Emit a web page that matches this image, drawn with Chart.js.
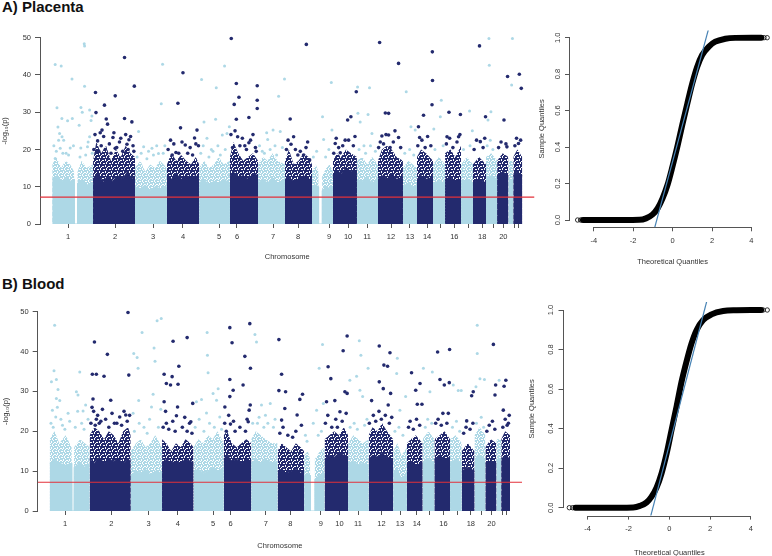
<!DOCTYPE html>
<html>
<head>
<meta charset="utf-8">
<script src="https://cdn.jsdelivr.net/npm/chart.js@4.4.1/dist/chart.umd.min.js"></script>
<style>
  html, body { margin: 0; padding: 0; width: 772px; height: 556px; overflow: hidden; background: #fff; }
  .panel-title { position: absolute; left: 2px; font: bold 15px 'Liberation Sans', Arial, sans-serif; line-height: 15px; color: #111; }
  canvas { position: absolute; }
</style>
</head>
<body>
<div class="panel-title" style="top:-1px">A) Placenta</div>
<div class="panel-title" style="top:276px">B) Blood</div>
<canvas id="placentaManhattan" width="545" height="261" style="left:0;top:0"></canvas>
<canvas id="placentaQQ" width="250" height="266" style="left:530px;top:0"></canvas>
<canvas id="bloodManhattan" width="535" height="280" style="left:0;top:270px"></canvas>
<canvas id="bloodQQ" width="255" height="287" style="left:525px;top:270px"></canvas>
<script>
// chromosome layout (cumulative position, Mb-like units)
const chromStart = [0, 250, 507, 703, 900, 1089, 1261, 1426, 1592, 1720, 1867, 1996, 2149, 2235, 2333, 2407, 2505, 2578, 2658, 2726, 2795, 2825];
const tickPos = [97, 385, 618, 801, 1022, 1132, 1353, 1506, 1696, 1813, 1929, 2076, 2192, 2297, 2376, 2464, 2550, 2635, 2703, 2764, 2830, 2856];
const tickLabels = ['1', '2', '3', '4', '5', '6', '7', '8', '9', '10', '11', '12', '13', '14', '', '16', '', '18', '', '20', '', ''];
const yTicks = [0, 10, 20, 30, 40, 50];
const threshold = 7.2;

// dense part of each chromosome: solid top and speckled top, [position, -log10 p]
const placentaCore = [
  [[0,12],[30,13],[60,11.5],[95,12.5],[120,11],[134,12],[135,0],[154,0],[155,11],[185,12],[215,10.5],[250,11]],
  [[250,12],[280,14],[310,11],[340,13],[370,11.5],[400,13],[430,12],[460,14],[490,12],[507,13]],
  [[507,10],[540,9.5],[570,10.5],[600,9],[630,10],[660,9.5],[703,10]],
  [[703,13],[730,12],[760,13.5],[790,12],[820,13],[850,12.5],[880,13],[900,12]],
  [[900,11],[930,12],[960,10.5],[990,11.5],[1020,11],[1050,12],[1089,11]],
  [[1089,13],[1110,14],[1140,12.5],[1170,13],[1200,12],[1230,13.5],[1261,13]],
  [[1261,11],[1290,12],[1320,11],[1350,12.5],[1380,11],[1426,12]],
  [[1426,12],[1450,12.5],[1480,11.5],[1510,12],[1540,13],[1570,12],[1592,12]],
  [[1592,10],[1615,10.5],[1631,10],[1632,0],[1653,0],[1654,9],[1680,10],[1700,9.5],[1720,10]],
  [[1720,13],[1745,14.5],[1770,13.5],[1800,15],[1830,14],[1867,14.5]],
  [[1867,12],[1900,11.5],[1930,12.5],[1960,11],[1996,12]],
  [[1996,12],[2020,13],[2050,12],[2080,13.5],[2110,12],[2149,12.5]],
  [[2149,10],[2180,11],[2210,10],[2235,10.5]],
  [[2235,12],[2260,13],[2290,12],[2333,12.5]],
  [[2333,11],[2370,11.5],[2407,11]],
  [[2407,12],[2440,12.5],[2470,11.5],[2505,12]],
  [[2505,11],[2540,12],[2578,11]],
  [[2578,11],[2615,12],[2658,11]],
  [[2658,12],[2690,13],[2726,12]],
  [[2726,13],[2760,14],[2795,13]],
  [[2795,12],[2825,12]],
  [[2825,13],[2850,14],[2880,13]]
];
const placentaFringe = [
  [[0,16],[25,18],[55,15],[80,17],[110,16],[134,14],[135,0],[154,0],[155,14],[180,17],[210,15],[250,16]],
  [[250,17],[270,22],[300,19],[330,21],[360,17],[390,20],[420,18],[450,21],[480,19],[507,18]],
  [[507,15],[540,17],[570,14],[600,16],[630,15],[660,17],[703,15]],
  [[703,16],[730,19],[760,17],[790,18.5],[820,17],[850,16],[880,18],[900,16]],
  [[900,15],[930,17],[960,15],[990,16],[1020,18],[1050,16],[1089,17]],
  [[1089,18],[1110,22],[1140,19],[1170,17],[1200,18],[1230,19],[1261,17]],
  [[1261,16],[1290,18],[1320,17],[1350,19],[1380,17],[1426,16]],
  [[1426,17],[1450,20],[1480,16],[1510,17],[1540,19],[1570,18],[1592,16]],
  [[1592,14],[1615,16],[1631,14],[1632,0],[1653,0],[1654,13],[1680,15],[1700,16],[1720,14]],
  [[1720,17],[1745,19],[1770,18],[1800,20],[1830,19],[1867,18]],
  [[1867,17],[1900,18],[1930,16],[1960,18],[1996,16]],
  [[1996,17],[2020,20],[2050,21],[2080,20],[2110,18],[2149,17]],
  [[2149,15],[2180,17],[2210,16],[2235,15]],
  [[2235,18],[2260,20],[2290,19],[2333,17]],
  [[2333,16],[2370,18],[2407,16]],
  [[2407,19],[2440,20],[2470,18],[2505,21]],
  [[2505,16],[2540,18],[2578,16]],
  [[2578,16],[2615,18],[2658,16]],
  [[2658,18],[2690,19],[2726,17]],
  [[2726,17],[2760,19],[2795,18]],
  [[2795,17],[2825,17]],
  [[2825,18],[2850,20],[2880,18]]
];
const bloodCore = [
  [[0,12],[30,13],[60,12],[100,11.5],[137,12],[138,0],[152,0],[153,11],[190,12],[220,11],[250,12]],
  [[250,13],[280,12],[310,13.5],[340,12],[370,13],[400,12.5],[430,13],[460,12],[490,13],[507,12.5]],
  [[507,9],[540,10],[570,9.5],[600,10.5],[630,9],[660,10],[703,9.5]],
  [[703,12],[730,13],[760,12],[790,12.5],[820,12],[850,13],[880,12.5],[900,12]],
  [[900,10],[930,10.5],[960,9.5],[990,10],[1020,11],[1050,10],[1089,11]],
  [[1089,13],[1110,14],[1140,12.5],[1170,13],[1200,12],[1230,13],[1261,12.5]],
  [[1261,12],[1290,13],[1320,12],[1350,13],[1390,12],[1426,12.5]],
  [[1426,10],[1450,10.5],[1480,9.5],[1510,10],[1540,10.5],[1570,9.5],[1592,10]],
  [[1592,9],[1615,9.5],[1629,9],[1630,0],[1658,0],[1659,8],[1690,9],[1720,9.5]],
  [[1720,13],[1750,14],[1780,13.5],[1810,14.5],[1840,14],[1867,13.5]],
  [[1867,12],[1900,12.5],[1930,11.5],[1960,12],[1996,11.5]],
  [[1996,13],[2020,14],[2050,13.5],[2080,14.5],[2110,13.5],[2149,13]],
  [[2149,10],[2175,10.5],[2200,8],[2220,9],[2235,10]],
  [[2235,12],[2260,12.5],[2290,11.5],[2333,12]],
  [[2333,12],[2370,13],[2407,12]],
  [[2407,13],[2440,14],[2470,13],[2505,13.5]],
  [[2505,12],[2540,13],[2578,12]],
  [[2578,10],[2615,11],[2658,10]],
  [[2658,13],[2690,14],[2726,13]],
  [[2726,12],[2760,12.5],[2795,12]],
  [[2795,13],[2825,13]],
  [[2825,13],[2850,14],[2880,13]]
];
const bloodFringe = [
  [[0,18],[30,20],[60,17],[100,19],[137,16],[138,0],[152,0],[153,16],[190,18],[220,17],[250,16]],
  [[250,19],[280,21],[310,20],[340,18],[370,20],[400,19],[430,17],[460,20],[490,21],[507,19]],
  [[507,15],[540,17],[570,18],[600,16],[630,17],[660,19],[703,16]],
  [[703,18],[730,17],[760,15],[790,17],[820,16],[850,18],[880,17],[900,16]],
  [[900,16],[930,18],[960,17],[990,19],[1020,18],[1050,20],[1089,17]],
  [[1089,19],[1110,20],[1140,17],[1170,16],[1200,17],[1230,18],[1261,17]],
  [[1261,18],[1290,20],[1320,19],[1350,18],[1390,17],[1426,17]],
  [[1426,15],[1450,17],[1480,16],[1510,15],[1540,17],[1570,16],[1592,15]],
  [[1592,14],[1615,15],[1629,13],[1630,0],[1658,0],[1659,13],[1690,15],[1720,16]],
  [[1720,18],[1750,19],[1780,20],[1810,19],[1840,21],[1867,19]],
  [[1867,17],[1900,19],[1930,18],[1960,17],[1996,18]],
  [[1996,19],[2020,21],[2050,20],[2080,22],[2110,20],[2149,18]],
  [[2149,15],[2175,17],[2200,14],[2220,15],[2235,16]],
  [[2235,17],[2260,18],[2290,19],[2333,17]],
  [[2333,18],[2370,20],[2407,18]],
  [[2407,18],[2440,19],[2470,20],[2505,18]],
  [[2505,18],[2540,19],[2578,17]],
  [[2578,15],[2615,17],[2658,15]],
  [[2658,19],[2690,21],[2726,19]],
  [[2726,16],[2760,18],[2795,17]],
  [[2795,18],[2825,18]],
  [[2825,18],[2850,20],[2880,19]]
];

// isolated CpGs above the dense part, [position, -log10 p]
const placentaHits = [
  [18,42.8],[55,42.4],[121,38.9],[29,31.2],[59,28.3],[94,27.7],[123,28.3],[39,22.5],[49,20.3],[60,23.4],[18,17.6],[45,24.3],[70,22.5],[110,20.4],[85,19],
  [10,21],[25,19.5],[35,26],[65,19],[100,18.5],[130,21],[170,18],[205,18.5],[220,22],[245,19],
  [196,48.4],[198,47.8],[198,37],[176,31.3],[184,30],[165,26.5],[243,29],[229,30.6],[229,23.4],[216,20.7],[175,20.4],[238,27.8],
  [443,44.7],[503,37],[386,34.4],[320,31.9],[265,35.3],[268,29.9],[443,28.3],[488,27.4],[331,28.2],[339,26.8],[305,25.2],[294,24.5],[372,23.2],[412,22],[458,21.4],[278,22.3],[386,20.3],[470,22.6],[495,21],
  [255,20],[262,24],[285,19.5],[300,21],[315,23.5],[325,20],[350,21.5],[360,19],[378,24.5],[395,20.5],[420,23],[432,19.5],[450,24],[465,20],[480,23.5],[500,19.5],
  [676,42.9],[668,32.3],[529,24.8],[560,20.7],[611,20.3],[651,18.9],[590,19.5],[690,21],
  [520,18],[545,19],[580,17.5],[620,18.5],[640,21],[680,19],
  [801,40.6],[770,32.4],[786,25.8],[887,25.2],[872,23.1],[725,22.5],[815,21.2],[896,21],[758,19.2],
  [710,20],[735,18.5],[745,21.5],[775,19],[795,22],[830,19],[845,20.5],[860,18.5],[880,21.5],
  [1056,42.4],[915,38.8],[1005,36.6],[1001,28.1],[930,27.4],[1042,23.9],[1085,26.1],[1071,24.3],[948,23],[975,20],
  [910,19],[925,21],[960,18],[985,19.5],[1015,21],[1030,18.5],[1060,20],
  [1097,49.8],[1128,37.7],[1256,37.1],[1144,34],[1256,33.2],[1256,31],[1115,32.1],[1128,28.1],[1205,28.6],[1136,23.4],[1205,21.8],[1250,19.5],[1180,21],
  [1095,24],[1105,20.5],[1120,25],[1150,21],[1165,23],[1190,20],[1215,22.5],[1230,24],[1245,20.5],
  [1423,38.9],[1387,34.3],[1353,25.2],[1397,24.8],[1314,24.5],[1320,22.7],[1287,19.5],[1365,21],
  [1270,21],[1300,19],[1335,20],[1375,18.5],[1410,20.5],
  [1557,48.2],[1458,28.2],[1479,23.4],[1463,21.4],[1540,18.5],[1577,17.2],[1520,19.5],
  [1435,20],[1445,22.5],[1490,20],[1505,18.5],[1555,20.5],[1565,22],
  [1710,38],[1656,28.8],[1714,25.2],[1663,22.7],
  [1600,18],[1620,19.5],[1675,18],[1695,20],
  [1863,35.5],[1830,28.8],[1810,27.9],[1765,19.1],[1816,22.5],[1734,21.6],
  [1725,19],[1740,23],[1755,20.5],[1780,21],[1795,22.5],[1845,21],[1855,23.5],
  [1871,36.8],[1944,36.6],[1873,29.7],[1935,29.4],[1887,27.4],[1959,24.3],[1910,21],
  [1880,20],[1920,19],[1950,21],[1980,19.5],
  [2006,48.7],[2122,43.1],[2041,29.8],[2061,29.7],[2061,23.9],[2020,23.6],[2122,23.2],
  [2000,20.5],[2010,22],[2030,21.5],[2045,24],[2070,20.5],[2090,22],[2100,25],[2135,20.5],
  [2169,35.5],[2198,26.1],[2224,25.2],
  [2160,19],[2190,20],[2215,18.5],
  [2329,46.2],[2330,38.5],[2327,32],[2275,29.2],[2244,26.1],[2251,23.2],
  [2240,21],[2265,22.5],[2285,20.5],[2300,23.5],[2320,21],
  [2384,33.2],[2338,25.5],[2378,28.8],
  [2345,20],[2395,21],
  [2431,30],[2501,29.4],[2419,23.4],[2490,23.4],
  [2415,21.5],[2435,23],[2455,20.5],[2480,22],[2498,24],
  [2557,30.3],[2574,25],
  [2520,20],[2560,21],
  [2618,47.8],[2655,28.8],[2623,22.1],
  [2585,20],[2600,22.5],[2640,20.5],[2650,23],
  [2676,49.8],[2678,42.6],[2688,30.1],[2684,22.5],[2670,27.9],
  [2665,21],[2700,20],
  [2790,39.6],[2768,27.9],[2786,20.7],
  [2735,20.5],[2750,22],[2780,21.5],
  [2820,49.8],[2815,37.3],
  [2862,40.2],[2874,36.4],[2857,21.6],
  [2835,21],[2845,23],[2870,22.5]
];
const bloodHits = [
  [31,46.6],[27,35.2],[42,33],[11,32.4],[52,30.5],[42,28.2],[63,27.7],[17,25.3],[38,23.6],[188,34.9],[167,29.9],[177,29.1],[225,26.6],[209,25.1],[115,24.5],[80,21.5],[200,22],
  [8,22],[22,21],[48,26],[70,23],[95,20.5],[125,22.5],[160,21],[175,25],[215,20.5],[240,23],
  [490,49.8],[280,42.4],[361,39.3],[267,34.3],[292,34.3],[340,33.8],[495,34.1],[382,27.8],[271,28.1],[265,26],[292,23],[476,24.1],[438,23.6],[320,22.5],[405,22],
  [258,22],[275,25],[285,21.5],[300,24],[310,22],[330,25.5],[350,23],[370,21],[390,24.5],[420,22],[450,21.5],[465,25],[485,22.5],[500,24],
  [698,48.3],[672,47.7],[578,44.8],[653,40.9],[526,39.5],[547,38.5],[659,37.6],[553,35.8],[647,29.3],[557,27.7],[637,26.1],[695,25.5],[522,24.5],
  [530,20],[560,22],[590,21],[610,19.5],[625,23],[680,21],
  [772,42.6],[860,43.5],[808,36.3],[716,34.3],[766,33.7],[730,32],[756,31.6],[803,31.8],[716,27.4],[895,27],[800,26.1],[793,23.9],[883,22.4],[845,23.5],[730,22],
  [710,21],[725,25],[745,20.5],[770,22.5],[785,20],[830,21],[860,20],[875,22],[890,19.5],
  [985,44.8],[987,39.1],[991,34.7],[1054,30.7],[1022,29.5],[950,28],[918,27.4],[981,24.6],[1044,27.8],[1064,23.6],
  [910,21],[935,23],[965,20],[1000,22],[1030,21],[1075,20.5],
  [1127,46],[1252,47],[1141,42.2],[1221,38.8],[1256,35.8],[1127,33],[1210,31.6],[1148,30.3],[1127,28.7],[1096,26.1],[1248,25.3],[1255,26.6],[1131,21.8],[1242,22.4],
  [1095,22],[1105,20],[1120,24],[1150,22.5],[1160,20],[1190,21],[1225,20],[1235,23],
  [1284,44.3],[1294,42.4],[1325,26.6],[1300,22],[1350,24],[1400,21],[1380,27],
  [1270,22],[1310,23.5],[1340,21],[1365,22],[1410,23],
  [1434,43],[1451,34.3],[1434,30.2],[1476,29.9],[1582,29.3],[1565,28],[1471,25.7],[1451,22.8],[1548,24.1],
  [1440,19.5],[1460,21],[1490,19],[1520,18.5],[1540,20],[1575,21.5],
  [1707,41.8],[1686,35.8],[1712,27],[1670,25.3],[1649,22],
  [1600,19],[1610,17.5],[1680,19],[1700,20],
  [1861,43.9],[1836,40.2],[1742,36.2],[1759,33.2],[1847,29.9],[1861,29.5],[1784,27.7],[1816,24.9],[1732,27.4],
  [1725,22],[1740,24],[1765,21],[1790,23],[1800,21],[1830,22.5],[1855,24.5],
  [1937,42.7],[1947,39.1],[1992,35.8],[1920,33.8],[1878,32.8],[1941,30.3],[1958,28.7],
  [1880,21],[1905,22],[1925,20.5],[1970,21.5],[1985,23],
  [2062,41.4],[2129,39.7],[2091,36.6],[2114,36.3],[2062,32.4],[2087,30.7],[2133,29.5],[2014,27.7],[2118,26.6],
  [2000,22],[2025,24],[2040,22.5],[2060,25],[2075,23],[2100,24],[2125,22],[2140,23.5],
  [2175,38.3],[2171,34.5],[2227,28.7],[2191,25.3],
  [2160,20],[2185,21],[2210,19],
  [2264,34.7],[2317,32],[2290,30.3],[2329,26.8],[2300,26.8],
  [2245,21],[2255,22.5],[2275,20.5],[2295,23],[2315,21.5],
  [2338,35.8],[2394,34.9],[2379,29.9],
  [2350,21],[2365,23],[2390,22],
  [2427,39.9],[2442,33],[2469,31.6],[2500,32.2],[2502,40.5],[2494,24.5],
  [2415,22],[2430,23],[2450,21.5],[2460,24.5],[2485,22],
  [2525,31.6],[2556,30.2],[2575,30.2],
  [2520,21],[2545,22.5],[2565,20],
  [2650,29.9],[2640,28.9],[2609,22.6],
  [2590,19.5],[2605,21],[2630,20.5],[2648,22],
  [2675,46.6],[2675,39.5],[2692,33.2],[2720,33],[2667,31.2],
  [2670,22],[2700,23.5],[2715,21],
  [2776,41.8],[2790,31.6],[2786,29.1],
  [2735,20],[2750,21.5],[2770,22.5],[2785,20.5],
  [2812,32.8],
  [2854,32.8],[2843,31.3],[2870,22],[2838,25.3],
  [2835,21],[2850,23],[2862,21.5],[2875,24]
];

// QQ plots: theoretical vs sample quantiles
const qqXTicks = [-4, -2, 0, 2, 4];
const qqYTicks = [0, 0.2, 0.4, 0.6, 0.8, 1.0];
const placentaQQx = [-4.55, -3.5, -2.5, -1.69, -1.35, -1.01, -0.76, -0.51, -0.26, -0.01, 0.24, 0.49, 0.75, 1.0, 1.25, 1.5, 1.84, 2.17, 2.68, 3.18, 4.0, 4.5];
const placentaQQy = [0, 0, 0, 0.001, 0.009, 0.031, 0.064, 0.119, 0.192, 0.292, 0.402, 0.521, 0.640, 0.750, 0.841, 0.905, 0.951, 0.978, 0.994, 0.999, 1, 1];
const placentaTails = [[-4.82, 0], [-4.67, 0], [4.64, 1], [4.8, 1]];
const placentaQQLine = [[-0.93, -0.05], [1.83, 1.05]];
const bloodQQx = [-4.6, -3.5, -2.5, -1.77, -1.44, -1.11, -0.87, -0.62, -0.38, -0.13, 0.11, 0.36, 0.60, 0.85, 1.09, 1.34, 1.66, 2.07, 2.64, 3.3, 4.0, 4.5];
const bloodQQy = [0, 0, 0, 0.001, 0.009, 0.027, 0.056, 0.103, 0.174, 0.275, 0.393, 0.514, 0.637, 0.742, 0.831, 0.899, 0.949, 0.978, 0.995, 0.999, 1, 1];
const bloodTails = [[-4.9, 0], [-4.74, 0], [4.6, 1], [4.8, 1]];
const bloodQQLine = [[-0.93, -0.05], [1.85, 1.05]];

const LIGHT = '#add8e6';
const DARK = '#232a6e';
const RED = '#e3303a';
const TEXT = '#333';
const AXIS = '#555';
const X_MIN = -75, X_MAX = 2955;

Chart.defaults.font.family = "'Liberation Sans', Arial, Helvetica, sans-serif";
Chart.defaults.font.size = 7.5;
Chart.defaults.color = TEXT;

// speckled fill for the thinning top of the dense part
function speckle(color, holes) {
    const c = document.createElement('canvas');
    c.width = 6; c.height = 6;
    const g = c.getContext('2d');
    g.fillStyle = color;
    g.fillRect(0, 0, 6, 6);
    holes.forEach(h => g.clearRect(h[0], h[1], h[2], h[3]));
    return g.createPattern(c, 'repeat');
}
const DARK_FRINGE = speckle(DARK, [[1, 1, 2, 1], [4, 0, 1, 2], [0, 4, 2, 1], [3, 3, 1, 2], [5, 5, 1, 1]]);
const LIGHT_FRINGE = speckle(LIGHT, [[1, 1, 2, 1], [4, 0, 1, 2], [0, 4, 2, 1], [3, 3, 1, 2], [5, 5, 1, 1], [2, 5, 1, 1], [5, 2, 1, 1]]);

function chromIndex(pos) {
    let i = 0;
    while (i < chromStart.length - 1 && pos >= chromStart[i + 1]) i++;
    return i;
}
const toXY = arr => arr.map(p => ({x: p[0], y: p[1]}));

// R style axis line that only spans the first to the last tick
const rAxis = {
    id: 'rAxis',
    afterDraw(chart, args, opts) {
        if (!opts.lines) return;
        const ctx = chart.ctx, area = chart.chartArea;
        ctx.save();
        ctx.strokeStyle = AXIS;
        ctx.lineWidth = 1;
        opts.lines.forEach(l => {
            const s = chart.scales[l.axis];
            const p0 = s.getPixelForValue(l.from), p1 = s.getPixelForValue(l.to);
            ctx.beginPath();
            if (l.axis === 'x') {
                const y = Math.round(area.bottom) + 0.5;
                ctx.moveTo(p0, y); ctx.lineTo(p1, y);
            } else {
                const x = Math.round(area.left) - 0.5;
                ctx.moveTo(x, p0); ctx.lineTo(x, p1);
            }
            ctx.stroke();
        });
        ctx.restore();
    }
};

function manhattan(id, box, core, fringe, hits) {
    const datasets = [
        {
            type: 'line',
            data: [{x: X_MIN, y: threshold}, {x: X_MAX, y: threshold}],
            borderColor: RED, borderWidth: 1.1, pointRadius: 0, order: 0
        },
        {
            type: 'scatter',
            data: toXY(hits),
            pointRadius: hits.map(h => chromIndex(h[0]) % 2 ? 1.8 : 1.5),
            pointBackgroundColor: hits.map(h => chromIndex(h[0]) % 2 ? DARK : LIGHT),
            pointBorderWidth: 0, clip: false, order: 1
        }
    ];
    core.forEach((prof, i) => datasets.push({
        type: 'line', data: toXY(prof), fill: 'origin',
        backgroundColor: i % 2 ? DARK : LIGHT, borderColor: i % 2 ? DARK : LIGHT,
        borderWidth: 1, pointRadius: 0, tension: 0, order: 2
    }));
    fringe.forEach((prof, i) => datasets.push({
        type: 'line', data: toXY(prof), fill: 'origin',
        backgroundColor: i % 2 ? DARK_FRINGE : LIGHT_FRINGE, borderColor: 'rgba(0,0,0,0)',
        borderWidth: 1, pointRadius: 0, tension: 0, order: 3
    }));

    new Chart(document.getElementById(id), {
        type: 'scatter',
        data: {datasets},
        plugins: [rAxis],
        options: {
            responsive: false,
            animation: false,
            events: [],
            layout: {padding: {top: box.padTop, right: box.padRight, left: 0, bottom: 0}},
            plugins: {legend: {display: false}, tooltip: {enabled: false}, rAxis: {}},
            scales: {
                x: {
                    type: 'linear', min: X_MIN, max: X_MAX,
                    afterBuildTicks: s => { s.ticks = tickPos.map(value => ({value})); },
                    afterFit: s => { s.height = box.xHeight; },
                    ticks: {autoSkip: false, maxRotation: 0, minRotation: 0, padding: 4,
                            callback: (v, i) => tickLabels[i]},
                    grid: {drawOnChartArea: false, drawTicks: true, tickLength: 4, color: AXIS},
                    border: {display: false},
                    title: {display: true, text: 'Chromosome', padding: 0}
                },
                y: {
                    type: 'linear', min: 0, max: 50,
                    afterBuildTicks: s => { s.ticks = yTicks.map(value => ({value})); },
                    afterFit: s => { s.width = box.yWidth; },
                    ticks: {padding: 4, callback: v => String(v)},
                    grid: {drawOnChartArea: false, drawTicks: true, tickLength: 5, color: AXIS},
                    border: {display: true, color: AXIS},
                    title: {display: true, text: '-log\u2081\u2080(p)', padding: {top: box.yTitlePad, bottom: 0}}
                }
            }
        }
    });
}

function qqPlot(id, box, qx, qy, tails, qline) {
    new Chart(document.getElementById(id), {
        type: 'scatter',
        data: {
            datasets: [
                {
                    type: 'line', data: toXY(qline),
                    borderColor: '#4682b4', borderWidth: 1.2, pointRadius: 0, order: 0
                },
                {
                    type: 'scatter', data: toXY(tails),
                    pointRadius: 2.2, pointBorderWidth: 0.8,
                    pointBorderColor: '#000', pointBackgroundColor: 'rgba(0,0,0,0)', clip: false, order: 1
                },
                {
                    type: 'line', data: qx.map((x, i) => ({x, y: qy[i]})),
                    borderColor: '#000', borderWidth: 6, borderCapStyle: 'round',
                    cubicInterpolationMode: 'monotone', pointRadius: 0, clip: false, order: 2
                }
            ]
        },
        plugins: [rAxis],
        options: {
            responsive: false,
            animation: false,
            events: [],
            layout: {padding: {top: box.padTop, right: box.padRight, left: 0, bottom: 0}},
            plugins: {
                legend: {display: false}, tooltip: {enabled: false},
                rAxis: {lines: [{axis: 'y', from: 0, to: 1}, {axis: 'x', from: -4, to: 4}]}
            },
            scales: {
                x: {
                    type: 'linear', min: box.xMin, max: box.xMax,
                    afterBuildTicks: s => { s.ticks = qqXTicks.map(value => ({value})); },
                    afterFit: s => { s.height = box.xHeight; },
                    ticks: {autoSkip: false, maxRotation: 0, minRotation: 0, padding: 5,
                            callback: v => String(v)},
                    grid: {drawOnChartArea: false, drawTicks: true, tickLength: 4, color: AXIS},
                    border: {display: false},
                    title: {display: true, text: 'Theoretical Quantiles', padding: 0}
                },
                y: {
                    type: 'linear', min: -0.04, max: 1.04,
                    afterBuildTicks: s => { s.ticks = qqYTicks.map(value => ({value})); },
                    afterFit: s => { s.width = box.yWidth; },
                    ticks: {padding: 2, minRotation: 90, maxRotation: 90, crossAlign: 'center',
                            callback: v => v.toFixed(1)},
                    grid: {drawOnChartArea: false, drawTicks: true, tickLength: 5, color: AXIS},
                    border: {display: false},
                    title: {display: true, text: 'Sample Quantiles', padding: {top: box.yTitlePad, bottom: 0}}
                }
            }
        }
    });
}

manhattan('placentaManhattan', {padTop: 37.7, padRight: 10.5, yWidth: 40, xHeight: 37, yTitlePad: 0.5},
          placentaCore, placentaFringe, placentaHits);
manhattan('bloodManhattan', {padTop: 41.7, padRight: 13, yWidth: 37.7, xHeight: 39, yTitlePad: 1.5},
          bloodCore, bloodFringe, bloodHits);
qqPlot('placentaQQ', {padTop: 30.4, padRight: 3, yWidth: 40, xHeight: 38.7, yTitlePad: 7.5, xMin: -5.208, xMax: 5.208},
       placentaQQx, placentaQQy, placentaTails, placentaQQLine);
qqPlot('bloodQQ', {padTop: 32.1, padRight: 4.7, yWidth: 38.5, xHeight: 41.4, yTitlePad: 2.5, xMin: -5.186, xMax: 5.19},
       bloodQQx, bloodQQy, bloodTails, bloodQQLine);
</script>
</body>
</html>
